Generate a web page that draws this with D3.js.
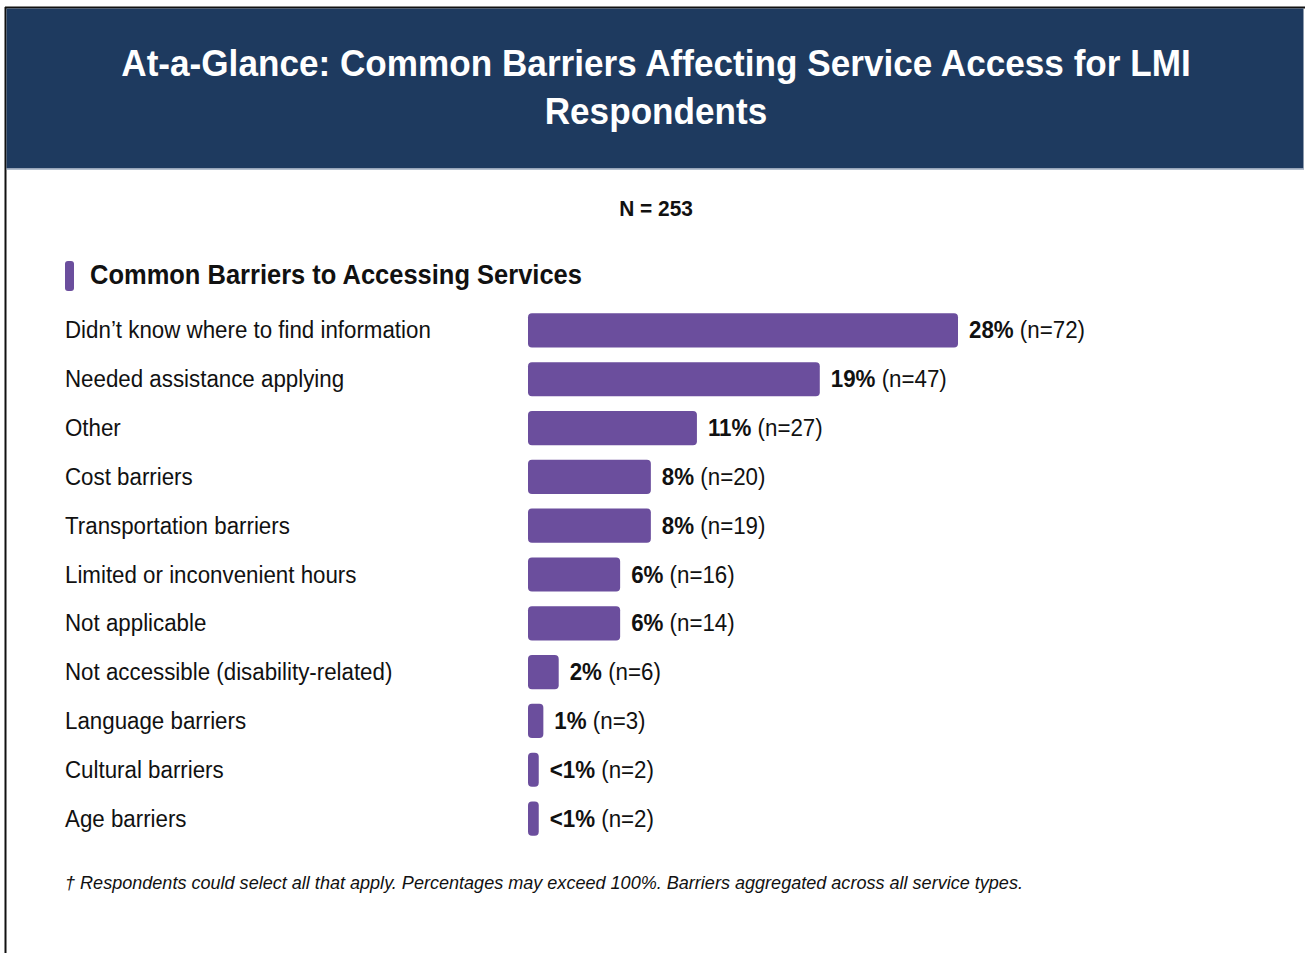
<!DOCTYPE html>
<html>
<head>
<meta charset="utf-8">
<script src="https://cdn.jsdelivr.net/npm/d3@7"></script>
<style>
  html, body { margin: 0; padding: 0; background: #fff; }
  svg { display: block; font-family: "Liberation Sans", Arial, Helvetica, sans-serif; }
</style>
</head>
<body>
<svg id="chart" width="1306" height="953"></svg>
<script>
// Survey results: barriers to accessing services (LMI respondents)
const categories = [
  "Didn\u2019t know where to find information",
  "Needed assistance applying",
  "Other",
  "Cost barriers",
  "Transportation barriers",
  "Limited or inconvenient hours",
  "Not applicable",
  "Not accessible (disability-related)",
  "Language barriers",
  "Cultural barriers",
  "Age barriers"
];
const percents = [28, 19, 11, 8, 8, 6, 6, 2, 1, 0.7, 0.7];
const counts = [72, 47, 27, 20, 19, 16, 14, 6, 3, 2, 2];

const titleLines = ["At-a-Glance: Common Barriers Affecting Service Access for LMI", "Respondents"];
const sampleLabel = "N = 253";
const sectionTitle = "Common Barriers to Accessing Services";
const footnote = "\u2020 Respondents could select all that apply. Percentages may exceed 100%. Barriers aggregated across all service types.";

const W = 1306, H = 953;
const NAVY = "#1e3a5f";
const PURPLE = "#6b4e9d";
const SX = 0.95; // horizontal text compression

const svg = d3.select("#chart");

// page frame
svg.append("rect").attr("x", 0).attr("y", 0).attr("width", W).attr("height", H).attr("fill", "#fff");
svg.append("line").attr("x1", 5).attr("x2", 1305).attr("y1", 7.5).attr("y2", 7.5)
  .attr("stroke", "#111").attr("stroke-width", 2);
svg.append("line").attr("x1", 5.5).attr("x2", 5.5).attr("y1", 7).attr("y2", H)
  .attr("stroke", "#111").attr("stroke-width", 2);

// header band
svg.append("rect").attr("x", 6.5).attr("y", 8.5).attr("width", 1297).attr("height", 160).attr("fill", NAVY);
svg.append("line").attr("x1", 6.5).attr("x2", 1304).attr("y1", 169).attr("y2", 169)
  .attr("stroke", "#9aa8bd").attr("stroke-width", 1.5);

function txt(x, y, s, opts) {
  const g = svg.append("g").attr("transform", `translate(${x},${y}) scale(${opts.sx || SX},1)`);
  const t = g.append("text")
    .attr("x", 0).attr("y", 0)
    .attr("font-size", opts.size)
    .attr("font-weight", opts.weight || "normal")
    .attr("font-style", opts.style || "normal")
    .attr("fill", opts.fill || "#111")
    .attr("text-anchor", opts.anchor || "start")
    .text(s);
  return t;
}

titleLines.forEach((line, i) => {
  txt(656, 76 + i * 48, line, { size: 37, weight: "bold", fill: "#fff", anchor: "middle" });
});

txt(656, 216, sampleLabel, { size: 22, weight: "bold", anchor: "middle" });

// section heading with accent marker
svg.append("rect").attr("x", 65).attr("y", 261).attr("width", 9).attr("height", 30)
  .attr("rx", 3).attr("fill", PURPLE);
txt(90, 284, sectionTitle, { size: 27, weight: "bold", sx: 0.944 });

// bars
const x = d3.scaleLinear().domain([0, 28]).range([528, 958]);
const y = d3.scaleBand().domain(categories).range([306, 843]).paddingInner(0.3).paddingOuter(0.15);

const rows = categories.map((c, i) => ({ c, p: percents[i], n: counts[i] }));

const row = svg.append("g").selectAll("g").data(rows).join("g");

row.each(function (d) {
  const cy = y(d.c) + y.bandwidth() / 2;
  txt(65, cy + 8, d.c, { size: 23.5 });
});

row.append("rect")
  .attr("x", x(0))
  .attr("y", d => y(d.c))
  .attr("width", d => x(d.p) - x(0))
  .attr("height", y.bandwidth())
  .attr("rx", 4)
  .attr("fill", PURPLE);

row.each(function (d) {
  const cy = y(d.c) + y.bandwidth() / 2;
  const g = svg.append("g").attr("transform", `translate(${x(d.p) + 11},${cy + 8}) scale(${SX},1)`);
  const t = g.append("text").attr("font-size", 23.5).attr("fill", "#111");
  t.append("tspan").attr("font-weight", "bold").text(d.p < 1 ? "<1%" : `${d.p}%`);
  t.append("tspan").text(` (n=${d.n})`);
});

txt(65, 889, footnote, { size: 18.5, style: "italic", sx: 0.977 });
</script>
</body>
</html>
